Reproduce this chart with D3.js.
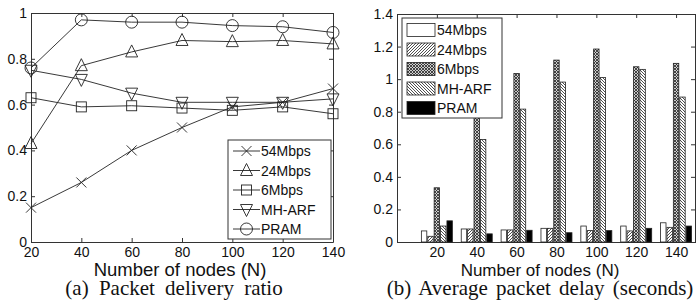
<!DOCTYPE html>
<html>
<head>
<meta charset="utf-8">
<script src="https://cdn.jsdelivr.net/npm/d3@7"></script>
<style>
  body { margin: 0; background: #fff; }
  svg { display: block; font-family: "Liberation Sans", Arial, sans-serif; }
  .tick text { font-size: 14px; fill: #111; }
  .axis path, .axis line { stroke: #333; }
  .axis-label { font-size: 17px; fill: #111; }
  .caption { font-family: "Liberation Serif", "Times New Roman", serif; font-size: 21px; fill: #111; }
  .legend text { font-size: 14px; fill: #111; }
</style>
</head>
<body>
<svg width="696" height="303"></svg>
<script>
const width = 696;
const height = 303;

// data
const nodes = [20, 40, 60, 80, 100, 120, 140];
const seriesNames = ["54Mbps", "24Mbps", "6Mbps", "MH-ARF", "PRAM"];

// (a) packet delivery ratio
const pdr54 = [0.15, 0.26, 0.40, 0.50, 0.59, 0.61, 0.67];
const pdr24 = [0.43, 0.77, 0.83, 0.88, 0.875, 0.88, 0.865];
const pdr6 = [0.63, 0.59, 0.595, 0.585, 0.575, 0.59, 0.56];
const pdrMH = [0.75, 0.71, 0.65, 0.61, 0.61, 0.61, 0.625];
const pdrPRAM = [0.76, 0.97, 0.96, 0.96, 0.945, 0.94, 0.915];

// (b) average packet delay
const delay54 = [0.068, 0.08, 0.074, 0.084, 0.098, 0.098, 0.118];
const delay24 = [0.035, 0.08, 0.074, 0.084, 0.07, 0.068, 0.09];
const delay6 = [0.333, 0.88, 1.035, 1.117, 1.185, 1.076, 1.097];
const delayMH = [0.098, 0.63, 0.816, 0.982, 1.01, 1.06, 0.89];
const delayPRAM = [0.13, 0.05, 0.072, 0.057, 0.07, 0.084, 0.098];

const pdrTicks = [0, 0.2, 0.4, 0.6, 0.8, 1];
const delayTicks = [0, 0.2, 0.4, 0.6, 0.8, 1, 1.2, 1.4];

const svg = d3.select("svg");
const ink = "#222";

// patterns for the bars
const defs = svg.append("defs");
function hatch(id, d, w, bg) {
    const p = defs.append("pattern")
        .attr("id", id)
        .attr("patternUnits", "userSpaceOnUse")
        .attr("width", w).attr("height", w);
    p.append("rect").attr("width", w).attr("height", w).attr("fill", bg);
    p.append("path").attr("d", d).attr("stroke", ink).attr("stroke-width", 0.8).attr("fill", "none");
}
hatch("fwd", "M0,3 L3,0 M-1,1 L1,-1 M2,4 L4,2", 3, "#fff");
hatch("bwd", "M0,0 L3,3 M-1,2 L1,4 M2,-1 L4,1", 3, "#fff");
hatch("cross", "M0,0 L3,3 M0,3 L3,0", 3, "#ccc");

const fills = ["#fff", "url(#fwd)", "url(#cross)", "url(#bwd)", "#000"];

// ---------- (a) line chart ----------
const a = { left: 31, right: 333, top: 13, bottom: 242 };

const xA = d3.scaleLinear().domain([20, 140]).range([a.left, a.right]);
const yA = d3.scaleLinear().domain([0, 1]).range([a.bottom, a.top]);

svg.append("g")
    .attr("class", "axis")
    .attr("transform", `translate(0,${a.bottom})`)
    .call(d3.axisBottom(xA).tickValues(nodes).tickSizeInner(-4).tickSizeOuter(0).tickPadding(5));
svg.append("g")
    .attr("class", "axis")
    .attr("transform", `translate(${a.left},0)`)
    .call(d3.axisLeft(yA).tickValues(pdrTicks).tickFormat(d3.format("")).tickSizeInner(-4).tickSizeOuter(0).tickPadding(4));
svg.append("g")
    .attr("class", "axis")
    .attr("transform", `translate(0,${a.top})`)
    .call(d3.axisTop(xA).tickValues(nodes).tickFormat("").tickSizeInner(-4).tickSizeOuter(0));
svg.append("g")
    .attr("class", "axis")
    .attr("transform", `translate(${a.right},0)`)
    .call(d3.axisRight(yA).tickValues(pdrTicks).tickFormat("").tickSizeInner(-4).tickSizeOuter(0));

// markers
function marker(g, type, x, y) {
    const s = 6;
    let el;
    if (type === "x") {
        el = g.append("path").attr("d", `M${x - 5},${y - 5}L${x + 5},${y + 5}M${x - 5},${y + 5}L${x + 5},${y - 5}`);
    } else if (type === "up") {
        el = g.append("path").attr("d", `M${x},${y - s - 1}L${x + s},${y + s - 1}L${x - s},${y + s - 1}Z`);
    } else if (type === "sq") {
        el = g.append("rect").attr("x", x - 5).attr("y", y - 5).attr("width", 10).attr("height", 10);
    } else if (type === "down") {
        el = g.append("path").attr("d", `M${x},${y + s + 1}L${x + s},${y - s + 1}L${x - s},${y - s + 1}Z`);
    } else {
        el = g.append("circle").attr("cx", x).attr("cy", y).attr("r", 6);
    }
    el.attr("fill", "none").attr("stroke", ink).attr("stroke-width", 0.9);
}

const pdrSeries = [pdr54, pdr24, pdr6, pdrMH, pdrPRAM];
const markerTypes = ["x", "up", "sq", "down", "circle"];

const line = d3.line()
    .x((d, i) => xA(nodes[i]))
    .y(d => yA(d));

pdrSeries.forEach((vals, k) => {
    const g = svg.append("g");
    g.append("path")
        .datum(vals)
        .attr("d", line)
        .attr("fill", "none")
        .attr("stroke", ink)
        .attr("stroke-width", 0.9);
    vals.forEach((v, i) => marker(g, markerTypes[k], xA(nodes[i]), yA(v)));
});

// legend (a)
const legA = svg.append("g").attr("class", "legend");
legA.append("rect")
    .attr("x", 228).attr("y", 140).attr("width", 103).attr("height", 99)
    .attr("fill", "#fff").attr("stroke", "#333");
seriesNames.forEach((name, k) => {
    const y = 151 + k * 19.5;
    legA.append("line")
        .attr("x1", 233).attr("x2", 260).attr("y1", y).attr("y2", y)
        .attr("stroke", ink).attr("stroke-width", 0.9);
    marker(legA, markerTypes[k], 246.5, y);
    legA.append("text")
        .attr("x", 261).attr("y", y + 5)
        .text(name);
});

svg.append("text")
    .attr("class", "axis-label")
    .attr("x", 180).attr("y", 276)
    .attr("text-anchor", "middle")
    .style("font-size", "18.5px")
    .text("Number of nodes (N)");
svg.append("text")
    .attr("class", "caption")
    .attr("x", 174).attr("y", 295)
    .attr("text-anchor", "middle")
    .attr("word-spacing", "5px")
    .text("(a) Packet delivery ratio");

// ---------- (b) bar chart ----------
const b = { left: 397, right: 696, top: 14, bottom: 242 };

const xB = d3.scaleLinear().domain([0, 150]).range([b.left, b.right]);
const yB = d3.scaleLinear().domain([0, 1.4]).range([b.bottom, b.top]);
const inner = d3.scaleBand().domain(seriesNames).range([-15.5, 15.5]).paddingInner(0.15);

const delaySeries = [delay54, delay24, delay6, delayMH, delayPRAM];

svg.append("g")
    .attr("class", "axis")
    .attr("transform", `translate(0,${b.bottom})`)
    .call(d3.axisBottom(xB).tickValues(nodes).tickSizeInner(-4).tickSizeOuter(0).tickPadding(5));
svg.append("g")
    .attr("class", "axis")
    .attr("transform", `translate(${b.left},0)`)
    .call(d3.axisLeft(yB).tickValues(delayTicks).tickFormat(d3.format("")).tickSizeInner(-4).tickSizeOuter(0).tickPadding(4));
svg.append("g")
    .attr("class", "axis")
    .attr("transform", `translate(0,${b.top})`)
    .call(d3.axisTop(xB).tickValues(nodes).tickFormat("").tickSizeInner(-4).tickSizeOuter(0));
svg.append("g")
    .attr("class", "axis")
    .attr("transform", `translate(${b.right - 1},0)`)
    .call(d3.axisRight(yB).tickValues(delayTicks).tickFormat("").tickSizeInner(-4).tickSizeOuter(0));

delaySeries.forEach((vals, k) => {
    svg.append("g")
        .selectAll("rect")
        .data(vals)
        .join("rect")
        .attr("x", (d, i) => xB(nodes[i]) + inner(seriesNames[k]))
        .attr("width", inner.bandwidth())
        .attr("y", d => yB(d))
        .attr("height", d => yB(0) - yB(d))
        .attr("fill", fills[k])
        .attr("stroke", ink)
        .attr("stroke-width", 0.8);
});

// legend (b)
const legB = svg.append("g").attr("class", "legend");
legB.append("rect")
    .attr("x", 402).attr("y", 18).attr("width", 100).attr("height", 100)
    .attr("fill", "#fff").attr("stroke", "#333");
seriesNames.forEach((name, k) => {
    const y = 30 + k * 19.5;
    legB.append("rect")
        .attr("x", 407).attr("y", y - 6.5).attr("width", 28).attr("height", 13)
        .attr("fill", fills[k]).attr("stroke", ink).attr("stroke-width", 0.8);
    legB.append("text")
        .attr("x", 437).attr("y", y + 5)
        .text(name);
});

svg.append("text")
    .attr("class", "axis-label")
    .attr("x", 540).attr("y", 276)
    .attr("text-anchor", "middle")
    .text("Number of nodes (N)");
svg.append("text")
    .attr("class", "caption")
    .attr("x", 540).attr("y", 295)
    .attr("text-anchor", "middle")
    .attr("word-spacing", "3px")
    .text("(b) Average packet delay (seconds)");
</script>
</body>
</html>
